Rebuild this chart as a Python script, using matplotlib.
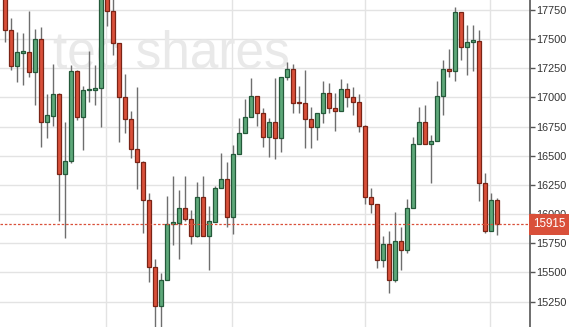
import matplotlib
matplotlib.use("Agg")
import matplotlib.pyplot as plt
from matplotlib.patches import Rectangle
import numpy as np

# daily candles (oldest -> newest)
opens = [17880, 17575, 17270, 17385, 17390, 17218, 17501, 16790, 16841, 17030,
         16344, 16455, 17227, 16833, 17064, 17064, 17081, 17900, 17741, 17467,
         17004, 16815, 16558, 16447, 16121, 15546, 15212, 15435, 15915, 15924,
         16052, 15958, 15812, 16147, 15812, 15932, 16224, 16301, 15975, 16515,
         16695, 16833, 17013, 16867, 16661, 16790, 16653, 17175, 17244, 16955,
         16953, 16815, 16747, 16867, 17038, 16910, 16884, 17073, 17004, 16961,
         16755, 16147, 16087, 15606, 15743, 15435, 15769, 15692, 16052, 16601,
         16790, 16601, 16627, 17013, 17244, 17227, 17733, 17433, 17480, 17484,
         16267, 15855, 16121]
highs = [17920, 17680, 17561, 17553, 17741, 17587, 17604, 17030, 17287, 17040,
         16790, 17278, 17235, 17098, 17398, 17278, 17950, 17950, 17850, 17467,
         17201, 16884, 17090, 16455, 16181, 15615, 15495, 16155, 16327, 16207,
         16327, 16035, 16275, 16327, 16069, 16241, 16524, 16447, 16592, 16824,
         16987, 17167, 17013, 16910, 16824, 17167, 17175, 17304, 17287, 17098,
         17235, 16918, 16867, 17141, 17124, 17038, 17158, 17124, 17090, 17030,
         16760, 16224, 16087, 15812, 15855, 16018, 15889, 16130, 16661, 16918,
         16935, 16678, 17141, 17321, 17416, 17776, 17733, 17621, 17621, 17579,
         16350, 16181, 16138]
lows = [17476, 17235, 17133, 17107, 17175, 16935, 16575, 16653, 16755, 15941,
        15795, 16440, 16807, 16550, 16961, 16935, 16747, 17613, 17364, 16618,
        16695, 16481, 16215, 15838, 15418, 15000, 15000, 15435, 15735, 15615,
        15941, 15743, 15804, 15812, 15521, 15932, 16224, 15889, 15830, 16515,
        16695, 16833, 16755, 16575, 16490, 16473, 16532, 17150, 16867, 16867,
        16567, 16567, 16635, 16781, 16867, 16712, 16884, 16918, 16850, 16704,
        16087, 16009, 15538, 15546, 15324, 15418, 15521, 15666, 16052, 16601,
        16601, 16267, 16627, 16850, 17175, 17141, 17321, 17193, 17227, 16112,
        15838, 15855, 15821]
closes = [17579, 17270, 17390, 17395, 17218, 17501, 16790, 16850, 17030, 16344,
          16455, 17227, 16833, 17064, 17070, 17081, 17900, 17741, 17467, 17004,
          16815, 16558, 16447, 16121, 15546, 15212, 15435, 15915, 15932, 16052,
          15958, 15812, 16147, 15812, 15941, 16224, 16301, 15975, 16515, 16695,
          16833, 17013, 16867, 16661, 16790, 16653, 17175, 17244, 16953, 16950,
          16815, 16747, 16867, 17038, 16910, 16884, 17073, 17004, 16961, 16755,
          16147, 16087, 15606, 15743, 15435, 15769, 15692, 16052, 16601, 16790,
          16601, 16627, 17013, 17244, 17227, 17733, 17433, 17476, 17490, 16267,
          15855, 16121, 15915]

last_price = 15915
yticks = [15250, 15500, 15750, 16000, 16250, 16500, 16750, 17000, 17250, 17500, 17750]
month_lines = [16.9, 37.9, 60.05, 80.9]

RED = "#d9503a"
RED_EDGE = "#7a2416"
GREEN = "#5ea87a"
GREEN_EDGE = "#24593a"
WICK = "#6e6e6e"

W, H = 569, 327
fig = plt.figure(figsize=(W / 100, H / 100), dpi=100)
ax = fig.add_axes([0, 0, 530 / W, 1])

o = np.array(opens, float)
h = np.array(highs, float)
l = np.array(lows, float)
c = np.array(closes, float)
x = np.arange(len(o))
up = c >= o

ax.set_xlim(-0.78, 87.55)
ax.set_ylim(15032, 17836)

# grid
for yt in yticks:
    ax.axhline(yt, color="#e3e3e3", lw=1, zorder=0)
for xm in month_lines:
    ax.axvline(xm, color="#e3e3e3", lw=1, zorder=0)

# watermark
ax.text(290 / 530, 1 - 67 / H, "tec shares", transform=ax.transAxes,
        ha="right", va="baseline", fontsize=37, color="#e9e9e9",
        family="Liberation Sans", zorder=0.5)

# wicks
ax.vlines(x, l, h, color=WICK, lw=1, zorder=2)

# bodies
bottom = np.minimum(o, c)
height = np.maximum(np.abs(c - o), 8)
ax.bar(x[up], height[up], bottom=bottom[up], width=0.62,
       color=GREEN, edgecolor=GREEN_EDGE, linewidth=0.9, zorder=3)
ax.bar(x[~up], height[~up], bottom=bottom[~up], width=0.62,
       color=RED, edgecolor=RED_EDGE, linewidth=0.9, zorder=3)

# last price line
ax.axhline(last_price, color="#d9503a", lw=0.9, ls=(0, (2, 1.5)), zorder=4)

# right axis
ax.yaxis.tick_right()
ax.set_yticks(yticks)
ax.set_yticklabels([str(v) for v in yticks])
ax.tick_params(axis="y", direction="out", length=3.6, width=1, color="#555555",
               labelsize=7.8, labelcolor="#333333", pad=1)
for lab in ax.get_yticklabels():
    lab.set_family("Liberation Sans")
ax.set_xticks([])
for side in ["top", "bottom", "left"]:
    ax.spines[side].set_visible(False)
ax.spines["right"].set_color("#555555")
ax.spines["right"].set_linewidth(1.2)

# price tag on the axis
y_tag = ax.transData.transform((0, last_price))[1] / H
fig.add_artist(Rectangle((529 / W, y_tag - 10.5 / H), 40 / W, 21 / H,
                         transform=fig.transFigure, fc="#d9503a", ec="none",
                         zorder=6))
fig.text(549 / W, y_tag, str(last_price), ha="center", va="center",
         fontsize=8.4, color="white", family="Liberation Sans", zorder=7)

fig.savefig("out.png", dpi=100)
